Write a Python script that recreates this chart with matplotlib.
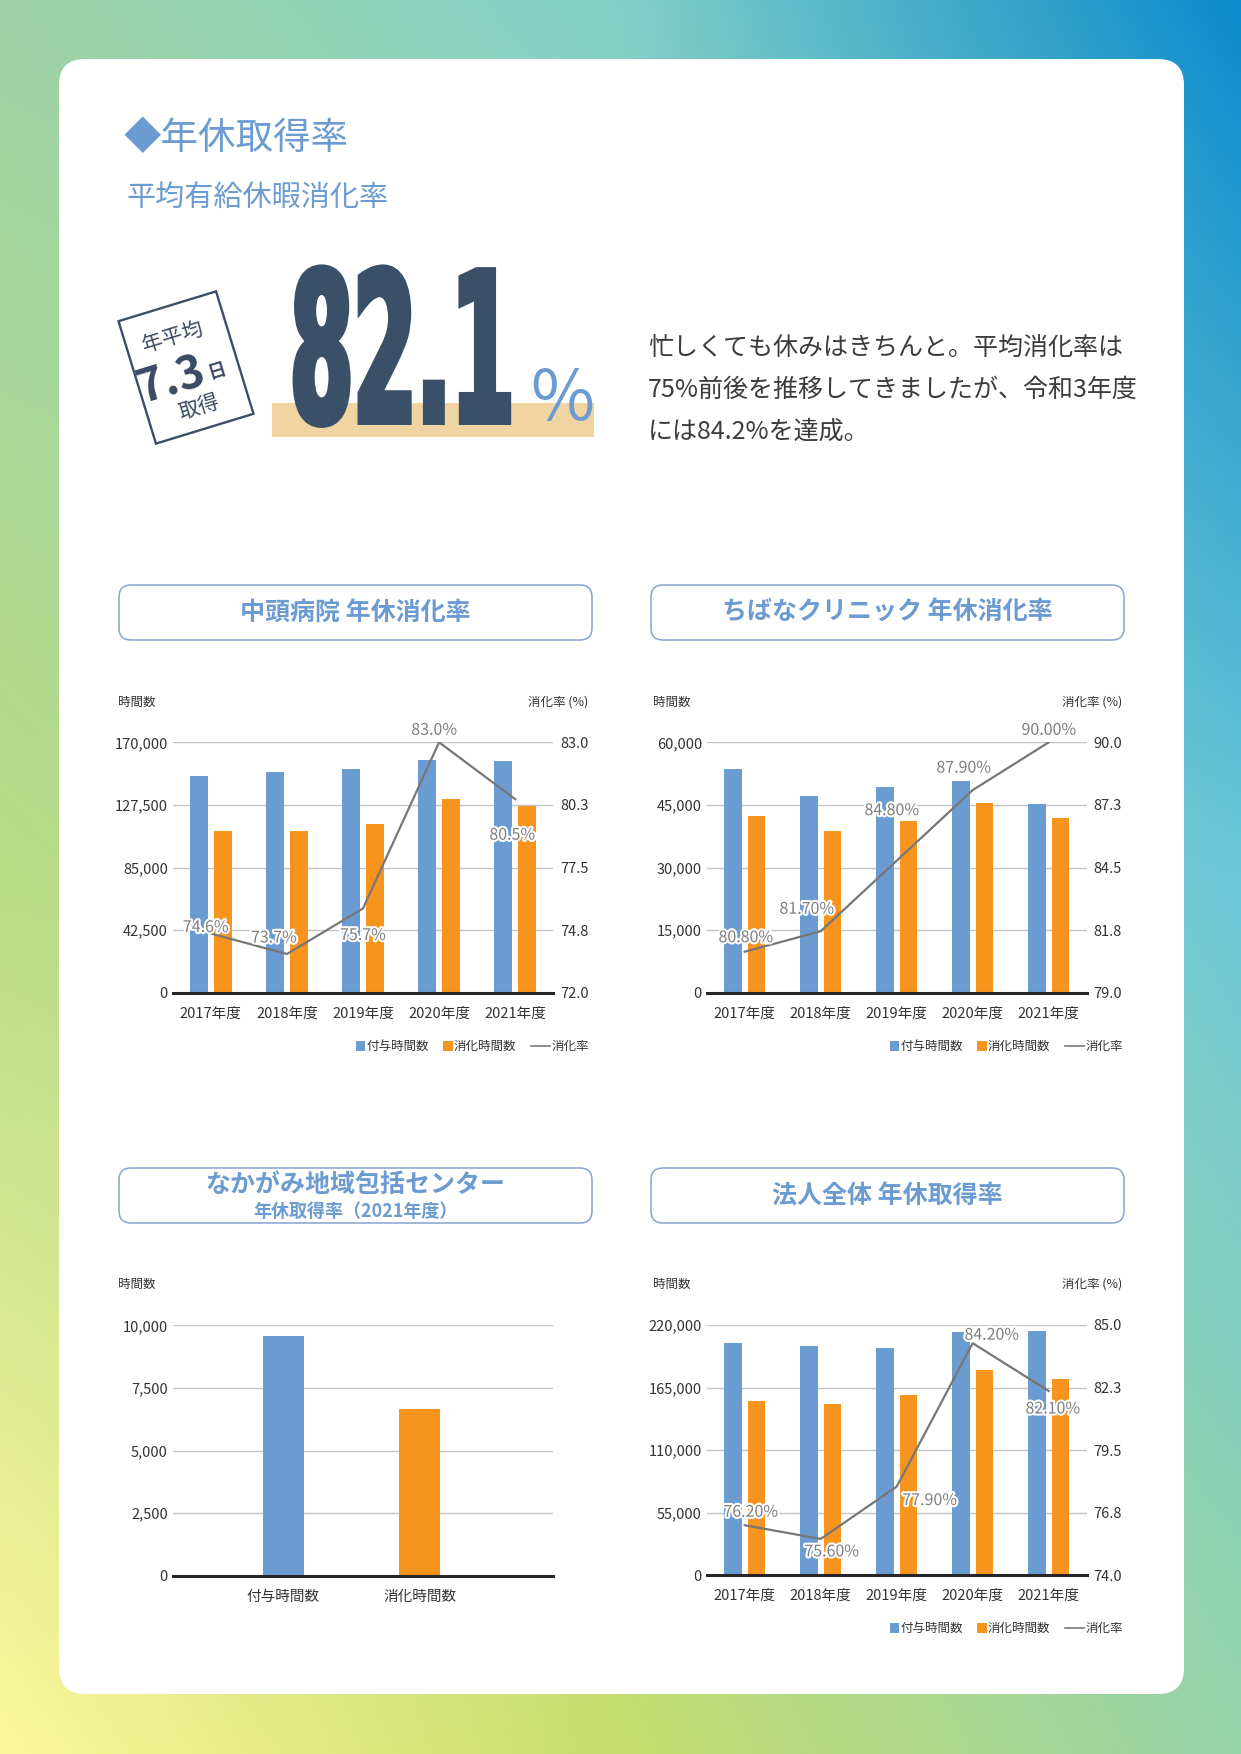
import numpy as np
import matplotlib
matplotlib.use('Agg')
import matplotlib.pyplot as plt
import matplotlib.patheffects as pe
from matplotlib.patches import Rectangle, FancyBboxPatch, Polygon
from matplotlib.transforms import Affine2D
from matplotlib.ticker import FuncFormatter

plt.rcParams['font.family'] = ['Noto Sans CJK JP', 'DejaVu Sans']

W, H = 1241, 1754

# ---- data ----
years = ['2017年度', '2018年度', '2019年度', '2020年度', '2021年度']
legend_names = ['付与時間数', '消化時間数', '消化率']

# 中頭病院
hosp_given = [147400, 149800, 152100, 158200, 157300]
hosp_used = [109800, 109600, 114800, 131500, 127000]
hosp_rate = [74.6, 73.7, 75.7, 83.0, 80.5]
hosp_rate_labels = ['74.6%', '73.7%', '75.7%', '83.0%', '80.5%']
hosp_left_max = 170000
hosp_right = (72.0, 83.0)
hosp_right_ticks = ['72.0', '74.8', '77.5', '80.3', '83.0']

# ちばなクリニック
clinic_given = [53500, 47100, 49400, 50700, 45100]
clinic_used = [42400, 38800, 41100, 45500, 41900]
clinic_rate = [80.8, 81.7, 84.8, 87.9, 90.0]
clinic_rate_labels = ['80.80%', '81.70%', '84.80%', '87.90%', '90.00%']
clinic_left_max = 60000
clinic_right = (79.0, 90.0)
clinic_right_ticks = ['79.0', '81.8', '84.5', '87.3', '90.0']

# なかがみ地域包括センター (2021)
center_cats = ['付与時間数', '消化時間数']
center_vals = [9570, 6660]
center_left_max = 10000

# 法人全体
total_given = [203900, 201300, 200100, 213900, 215000]
total_used = [153500, 150900, 158200, 180800, 172800]
total_rate = [76.2, 75.6, 77.9, 84.2, 82.1]
total_rate_labels = ['76.20%', '75.60%', '77.90%', '84.20%', '82.10%']
total_left_max = 220000
total_right = (74.0, 85.0)
total_right_ticks = ['74.0', '76.8', '79.5', '82.3', '85.0']

BLUE = '#6a9bd1'
ORANGE = '#f7941d'
TITLE_BLUE = '#6b9bd1'
DARK = '#333333'


class Stretch(pe.AbstractPathEffect):
    # draws text scaled about its baseline origin (condensed look), with optional outline
    def __init__(self, sx, sy, lw=0):
        super().__init__()
        self.sx = sx
        self.sy = sy
        self.lw = lw

    def draw_path(self, renderer, gc, tpath, affine, rgbFace=None):
        gc0 = renderer.new_gc()
        gc0.copy_properties(gc)
        gc0.set_linewidth(self.lw)
        if rgbFace is not None:
            gc0.set_foreground(rgbFace)
        gc0.set_joinstyle('miter')
        renderer.draw_path(gc0, tpath, Affine2D().scale(self.sx, self.sy) + affine, rgbFace)
        gc0.restore()


fig = plt.figure(figsize=(W / 100, H / 100), dpi=100)
bg = fig.add_axes([0, 0, 1, 1])

# gradient background
ctrl = np.array([
    [[0x9e, 0xd3, 0xa6], [0x82, 0xd0, 0xc8], [0x0b, 0x8b, 0xcc]],
    [[0xb9, 0xdc, 0x86], [0xa8, 0xd8, 0xa0], [0x6d, 0xc8, 0xd8]],
    [[0xfb, 0xf7, 0x9b], [0xc7, 0xdd, 0x6e], [0x96, 0xd4, 0xa9]],
]) / 255.0
nv, nu = 175, 124
v = np.linspace(0, 1, nv)
u = np.linspace(0, 1, nu)
cols = np.zeros((nv, 3, 3))
for j in range(3):
    for c in range(3):
        cols[:, j, c] = np.interp(v, [0, 0.5, 1], ctrl[:, j, c])
img = np.zeros((nv, nu, 3))
for i in range(nv):
    for c in range(3):
        img[i, :, c] = np.interp(u, [0, 0.5, 1], cols[i, :, c])
bg.imshow(img, extent=(0, W, H, 0), aspect='auto', interpolation='bilinear', zorder=0)
bg.set_xlim(0, W)
bg.set_ylim(H, 0)
bg.axis('off')

# white panel
bg.add_patch(FancyBboxPatch((59, 59), 1125, 1635, boxstyle='round,pad=0,rounding_size=26',
                            fc='white', ec='none', zorder=1))

# headings
bg.text(124, 138, '◆年休取得率', fontsize=27, color=TITLE_BLUE, va='center', ha='left', zorder=3)
bg.text(127, 198, '平均有給休暇消化率', fontsize=21, color=TITLE_BLUE, va='center', ha='left', zorder=3)

# stamp
cx, cy, sw, sh, ang = 186, 367.5, 102, 128, np.radians(17)
loc = np.array([[-sw / 2, sh / 2], [sw / 2, sh / 2], [sw / 2, -sh / 2], [-sw / 2, -sh / 2]])
rx = loc[:, 0] * np.cos(ang) - loc[:, 1] * np.sin(ang)
ry = loc[:, 0] * np.sin(ang) + loc[:, 1] * np.cos(ang)
bg.add_patch(Polygon(np.column_stack([cx + rx, cy - ry]), closed=True, fc='white',
                     ec='#3d4d66', lw=1.7, zorder=3))
navy = '#3a4a63'
bg.text(173, 337, '年平均', fontsize=15, color=navy, rotation=17, rotation_mode='anchor',
        ha='center', va='center', zorder=4)
bg.text(172, 381, '7.3', fontsize=33, fontweight='bold', color=navy, rotation=17,
        rotation_mode='anchor', ha='center', va='center', zorder=4)
bg.text(217, 371, '日', fontsize=13, fontweight='bold', color=navy, rotation=17,
        rotation_mode='anchor', ha='center', va='center', zorder=4)
bg.text(199, 407, '取得', fontsize=15, color=navy, rotation=17, rotation_mode='anchor',
        ha='center', va='center', zorder=4)

# big number (drawn small, stretched upward about the baseline)
bg.add_patch(Rectangle((271.7, 403.3), 322.6, 34, fc='#f0d5a3', ec='none', zorder=2))
bg.text(290, 422, '82.1', fontsize=65.5, fontweight='bold', family='DejaVu Sans',
        color='#3a5068', ha='left', va='baseline', zorder=3,
        path_effects=[Stretch(1.0, 2.29, lw=4.3)])
bg.text(530, 420, '%', fontsize=50, color=TITLE_BLUE, ha='left', va='baseline', zorder=3)

para = ['忙しくても休みはきちんと。平均消化率は',
        '75%前後を推移してきましたが、令和3年度',
        'には84.2%を達成。']
for k, line in enumerate(para):
    bg.text(648, 348 + 42 * k, line, fontsize=18, color='#3c3c3c', ha='left', va='center', zorder=3)

# chart title boxes
boxes = [(119, 585, '中頭病院 年休消化率'), (651, 585, 'ちばなクリニック 年休消化率'),
         (119, 1168, None), (651, 1168, '法人全体 年休取得率')]
for bx, by, ttl in boxes:
    bg.add_patch(FancyBboxPatch((bx, by), 473, 55, boxstyle='round,pad=0,rounding_size=12',
                                fc='white', ec='#86a3cf', lw=1.1, zorder=3))
    if ttl:
        bg.text(bx + 236.5, by + 28, ttl, fontsize=18, fontweight='bold', color=TITLE_BLUE,
                ha='center', va='center', zorder=4)
bg.text(355.5, 1185, 'なかがみ地域包括センター', fontsize=18, fontweight='bold', color=TITLE_BLUE,
        ha='center', va='center', zorder=4)
bg.text(355.5, 1211, '年休取得率（2021年度）', fontsize=13, fontweight='bold', color=TITLE_BLUE,
        ha='center', va='center', zorder=4)


def px_axes(x0, y0, x1, y1):
    return fig.add_axes([x0 / W, 1 - y1 / H, (x1 - x0) / W, (y1 - y0) / H])


def style_left(ax, ymax):
    ax.patch.set_alpha(0)
    ax.set_ylim(0, ymax)
    ax.set_yticks(np.linspace(0, ymax, 5))
    ax.yaxis.set_major_formatter(FuncFormatter(lambda val, p: f'{val:,.0f}'))
    ax.grid(axis='y', color='#c4c4c4', lw=1)
    ax.set_axisbelow(True)
    for s in ['left', 'right', 'top']:
        ax.spines[s].set_visible(False)
    ax.spines['bottom'].set_color('#262626')
    ax.spines['bottom'].set_linewidth(2.2)
    ax.tick_params(axis='y', length=0, labelsize=10.5, labelcolor=DARK, pad=3.4)
    ax.tick_params(axis='x', length=0, labelsize=10.5, labelcolor=DARK, pad=10)


def axis_titles(left_x, right_x, y, right=True):
    bg.text(left_x, y, '時間数', fontsize=9, color=DARK, ha='left', va='center', zorder=4)
    if right:
        bg.text(right_x, y, '消化率 (%)', fontsize=9, color=DARK, ha='right', va='center', zorder=4)


def legend(right_x, y):
    bg.add_patch(Rectangle((right_x - 232.3, y - 4.7), 9.3, 9.3, fc=BLUE, ec='none', zorder=4))
    bg.text(right_x - 221.5, y, legend_names[0], fontsize=9, color=DARK, ha='left', va='center', zorder=4)
    bg.add_patch(Rectangle((right_x - 144.7, y - 4.7), 9.3, 9.3, fc=ORANGE, ec='none', zorder=4))
    bg.text(right_x - 134, y, legend_names[1], fontsize=9, color=DARK, ha='left', va='center', zorder=4)
    bg.plot([right_x - 57, right_x - 38], [y, y], color='#7a7a7a', lw=1.2, zorder=4)
    bg.text(right_x - 36.5, y, legend_names[2], fontsize=9, color=DARK, ha='left', va='center', zorder=4)


def bar_line_chart(box, given, used, rate, rate_labels, ymax, rlim, rticks, offsets):
    ax = px_axes(*box)
    x = np.arange(len(years))
    ax.bar(x - 0.155, given, width=0.235, color=BLUE, zorder=2)
    ax.bar(x + 0.155, used, width=0.235, color=ORANGE, zorder=2)
    ax.set_xlim(-0.5, len(years) - 0.5)
    ax.set_xticks(x)
    ax.set_xticklabels(years)
    style_left(ax, ymax)
    ax2 = ax.twinx()
    ax2.set_ylim(*rlim)
    ax2.set_yticks(np.linspace(rlim[0], rlim[1], 5))
    ax2.set_yticklabels(rticks)
    for s in ax2.spines.values():
        s.set_visible(False)
    ax2.tick_params(axis='y', length=0, labelsize=10.5, labelcolor=DARK, pad=4.8)
    ax2.plot(x, rate, color='#777777', lw=1.6, zorder=3)
    for i, (r, lbl) in enumerate(zip(rate, rate_labels)):
        ax2.annotate(lbl, (x[i], r), xytext=offsets[i], textcoords='offset pixels',
                     ha='center', va='center', fontsize=11.5, color='#7f7f7f', zorder=5,
                     path_effects=[pe.withStroke(linewidth=3, foreground='white')])
    return ax


# 中頭病院
axis_titles(118, 588, 702)
bar_line_chart((172.7, 742.3, 553.3, 992.7), hosp_given, hosp_used, hosp_rate, hosp_rate_labels,
               hosp_left_max, hosp_right, hosp_right_ticks,
               [(-5, 6), (-13, 16), (0, -27), (-5, 12), (-3, -36)])
legend(588, 1046)

# ちばなクリニック
axis_titles(653, 1122, 702)
bar_line_chart((706.7, 742.3, 1086.7, 992.7), clinic_given, clinic_used, clinic_rate, clinic_rate_labels,
               clinic_left_max, clinic_right, clinic_right_ticks,
               [(1, 14), (-14, 22), (-5, 50), (-9, 22), (0, 12)])
legend(1122, 1046)

# なかがみ地域包括センター
axis_titles(118, None, 1284, right=False)
ax3 = px_axes(172.7, 1325.3, 553.3, 1575.7)
ax3.bar(np.arange(len(center_cats)), center_vals, width=0.30, color=[BLUE, ORANGE], zorder=2)
ax3.set_xlim(-0.81, 1.98)
ax3.set_xticks(np.arange(len(center_cats)))
ax3.set_xticklabels(center_cats)
style_left(ax3, center_left_max)

# 法人全体
axis_titles(653, 1122, 1284)
bar_line_chart((706.7, 1325.0, 1086.7, 1575.3), total_given, total_used, total_rate, total_rate_labels,
               total_left_max, total_right, total_right_ticks,
               [(6, 13), (11, -13), (33, -14), (19, 8), (4, -18)])
legend(1122, 1628)

fig.savefig('out.png', dpi=100)
